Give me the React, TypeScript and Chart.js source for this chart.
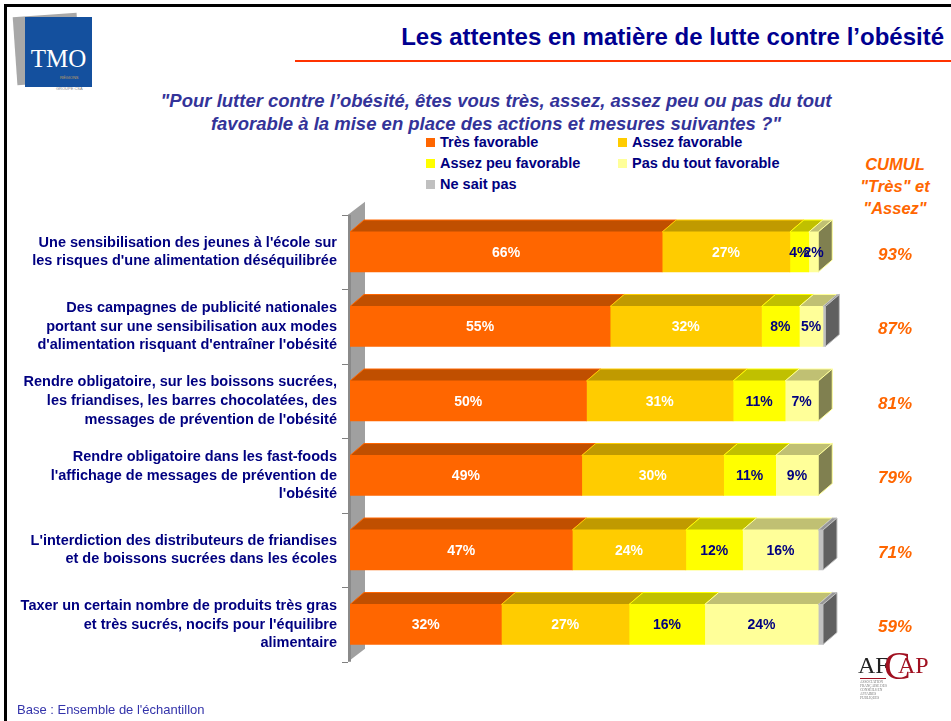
import React, { useEffect, useRef } from "react";
import { Chart, registerables } from "chart.js";

Chart.register(...registerables);

const categories: string[][] = [
  ["Une sensibilisation des jeunes à l'école sur", "les risques d'une alimentation déséquilibrée"],
  ["Des campagnes de publicité nationales", "portant sur une sensibilisation aux modes", "d'alimentation risquant d'entraîner l'obésité"],
  ["Rendre obligatoire, sur les boissons sucrées,", "les friandises, les barres chocolatées, des", "messages de prévention de l'obésité"],
  ["Rendre obligatoire dans les fast-foods", "l'affichage de messages de prévention de", "l'obésité"],
  ["L'interdiction des distributeurs de friandises", "et de boissons sucrées dans les écoles"],
  ["Taxer un certain nombre de produits très gras", "et très sucrés, nocifs pour l'équilibre", "alimentaire"],
];

const seriesNames = ["Très favorable", "Assez favorable", "Assez peu favorable", "Pas du tout favorable", "Ne sait pas"];
const tresFavorable = [66, 55, 50, 49, 47, 32];
const assezFavorable = [27, 32, 31, 30, 24, 27];
const assezPeuFavorable = [4, 8, 11, 11, 12, 16];
const pasDuToutFavorable = [2, 5, 7, 9, 16, 24];
const neSaitPas = [0, 0.5, 0, 0, 1, 1];
const cumulTresAssez = [93, 87, 81, 79, 71, 59];

const seriesData = [tresFavorable, assezFavorable, assezPeuFavorable, pasDuToutFavorable, neSaitPas];
const frontColors = ["#FF6600", "#FFCC00", "#FFFF00", "#FFFF99", "#C0C0C0"];
const topColors = ["#C04F00", "#C09A00", "#C0C000", "#C0C073", "#969696"];
const sideColors = ["#993D00", "#997A00", "#999900", "#808050", "#606060"];
const labelColors = ["#FFFFFF", "#FFFFFF", "#000080", "#000080", "#000080"];

const FONT = '"Liberation Sans", Arial, Helvetica, sans-serif';
const NAVY = "#000080";
const ORANGE = "#FF6600";

const DX = 14;
const DY = 12;

const threeD = {
  id: "threeD",
  beforeDatasetsDraw(chart: any) {
    const { ctx, chartArea } = chart;
    const top = chartArea.top;
    const bottom = chartArea.bottom;
    const L = chartArea.left - 2;
    ctx.save();
    ctx.fillStyle = "#A0A0A0";
    ctx.beginPath();
    ctx.moveTo(L, bottom);
    ctx.lineTo(L, top);
    ctx.lineTo(L + 17, top - 13);
    ctx.lineTo(L + 17, bottom - 13);
    ctx.closePath();
    ctx.fill();
    ctx.fillStyle = "#8A8A8A";
    ctx.fillRect(L, top, 3, bottom - top);
    ctx.strokeStyle = "#808080";
    ctx.lineWidth = 1;
    const n = chart.data.labels.length;
    const step = (bottom - top) / n;
    for (let k = 0; k <= n; k++) {
      const y = Math.round(top + k * step) + 0.5;
      ctx.beginPath();
      ctx.moveTo(L - 6, y);
      ctx.lineTo(L, y);
      ctx.stroke();
    }
    ctx.restore();
  },
  afterDatasetsDraw(chart: any) {
    const { ctx } = chart;
    const nCat = chart.data.labels.length;
    const nDs = chart.data.datasets.length;
    ctx.save();
    for (let j = 0; j < nCat; j++) {
      let lastIdx = -1;
      for (let i = 0; i < nDs; i++) {
        const v = chart.data.datasets[i].data[j];
        if (v > 0) lastIdx = i;
      }
      for (let i = 0; i < nDs; i++) {
        const v = chart.data.datasets[i].data[j];
        if (!(v > 0)) continue;
        const el = chart.getDatasetMeta(i).data[j];
        const p = el.getProps(["x", "y", "base", "height"], true);
        const yt = p.y - p.height / 2;
        const yb = p.y + p.height / 2;
        ctx.fillStyle = topColors[i];
        ctx.beginPath();
        ctx.moveTo(p.base, yt);
        ctx.lineTo(p.x, yt);
        ctx.lineTo(p.x + DX, yt - DY);
        ctx.lineTo(p.base + DX, yt - DY);
        ctx.closePath();
        ctx.fill();
        ctx.strokeStyle = frontColors[i];
        ctx.lineWidth = 1;
        ctx.stroke();
        if (i === lastIdx) {
          ctx.fillStyle = sideColors[i];
          ctx.beginPath();
          ctx.moveTo(p.x, yt);
          ctx.lineTo(p.x + DX, yt - DY);
          ctx.lineTo(p.x + DX, yb - DY);
          ctx.lineTo(p.x, yb);
          ctx.closePath();
          ctx.fill();
          ctx.strokeStyle = frontColors[i];
          ctx.stroke();
        }
      }
      for (let i = 0; i < 4; i++) {
        const v = chart.data.datasets[i].data[j];
        if (!(v >= 1)) continue;
        const el = chart.getDatasetMeta(i).data[j];
        const p = el.getProps(["x", "y", "base"], true);
        ctx.fillStyle = labelColors[i];
        ctx.font = `bold 14px ${FONT}`;
        ctx.textAlign = "center";
        ctx.textBaseline = "middle";
        ctx.fillText(`${v}%`, (p.x + p.base) / 2, p.y + 1);
      }
      const el0 = chart.getDatasetMeta(0).data[j];
      const cy = el0.getProps(["y"], true).y;
      ctx.fillStyle = ORANGE;
      ctx.font = `italic bold 17px ${FONT}`;
      ctx.textAlign = "center";
      ctx.textBaseline = "middle";
      ctx.fillText(`${cumulTresAssez[j]}%`, 895, cy + 3);
    }
    ctx.restore();
  },
};

function BarChart() {
  const ref = useRef<HTMLCanvasElement | null>(null);
  useEffect(() => {
    if (!ref.current) return;
    const chart = new Chart(ref.current, {
      type: "bar",
      data: {
        labels: categories as any,
        datasets: seriesNames.map((name, i) => ({
          label: name,
          data: seriesData[i],
          backgroundColor: frontColors[i],
          borderWidth: 0,
          barThickness: 40,
        })),
      },
      options: {
        indexAxis: "y",
        responsive: false,
        animation: false,
        devicePixelRatio: 1,
        layout: { padding: { top: 214.75, bottom: 59.25, left: 0, right: 123.3 } },
        plugins: { legend: { display: false }, tooltip: { enabled: false } },
        scales: {
          x: { stacked: true, min: 0, max: 101, display: false },
          y: {
            stacked: true,
            grid: { display: false },
            border: { display: false },
            ticks: {
              color: NAVY,
              padding: 5,
              font: { family: FONT, size: 14.5, weight: "bold", lineHeight: 1.3 },
            },
            afterFit: (s: any) => {
              s.width = 350;
            },
          },
        },
      } as any,
      plugins: [threeD],
    });
    return () => chart.destroy();
  }, []);
  return (
    <canvas
      ref={ref}
      width={951}
      height={721}
      style={{ position: "absolute", left: 0, top: 0, width: 951, height: 721 }}
    />
  );
}

const legendPos = [
  { left: 426, top: 134 },
  { left: 618, top: 134 },
  { left: 426, top: 155 },
  { left: 618, top: 155 },
  { left: 426, top: 176 },
];

export default function App() {
  return (
    <div
      style={{
        position: "fixed",
        left: 0,
        top: 0,
        width: 951,
        height: 721,
        background: "#fff",
        overflow: "hidden",
        fontFamily: FONT,
      }}
    >
      <div
        style={{
          position: "absolute",
          left: 4,
          top: 4,
          width: 980,
          height: 760,
          border: "3px solid #000",
          boxSizing: "border-box",
        }}
      />
      <div
        style={{
          position: "absolute",
          left: 15,
          top: 15,
          width: 64,
          height: 68,
          background: "#A8A8A8",
          transform: "rotate(-4deg)",
        }}
      />
      <div
        style={{
          position: "absolute",
          left: 25,
          top: 17,
          width: 67,
          height: 70,
          background: "#14509E",
        }}
      />
      <div
        style={{
          position: "absolute",
          left: 25,
          top: 46,
          width: 67,
          textAlign: "center",
          color: "#fff",
          fontSize: 25,
          lineHeight: "26px",
          fontFamily: '"Liberation Serif", serif',
        }}
      >
        TMO
      </div>
      <div style={{ position: "absolute", left: 60, top: 75, fontSize: 4, color: "#C8A060" }}>RÉGIONS</div>
      <div style={{ position: "absolute", left: 56, top: 86, fontSize: 4, color: "#888" }}>GROUPE CSA</div>

      <div
        style={{
          position: "absolute",
          right: 7,
          top: 22,
          fontSize: 24,
          fontWeight: "bold",
          color: "#000090",
          lineHeight: "30px",
          whiteSpace: "nowrap",
        }}
      >
        Les attentes en matière de lutte contre l’obésité
      </div>
      <div
        style={{ position: "absolute", left: 295, top: 60, width: 660, height: 2, background: "#FF3300" }}
      />
      <div
        style={{
          position: "absolute",
          left: 46,
          top: 89,
          width: 900,
          textAlign: "center",
          fontSize: 18.5,
          fontWeight: "bold",
          fontStyle: "italic",
          color: "#333399",
          lineHeight: "23px",
          whiteSpace: "nowrap",
        }}
      >
        "Pour lutter contre l’obésité, êtes vous très, assez, assez peu ou pas du tout
        <br />
        favorable à la mise en place des actions et mesures suivantes ?"
      </div>

      {seriesNames.map((name, i) => (
        <div
          key={name}
          style={{
            position: "absolute",
            left: legendPos[i].left,
            top: legendPos[i].top,
            height: 16,
            display: "flex",
            alignItems: "center",
            whiteSpace: "nowrap",
          }}
        >
          <div style={{ width: 9, height: 9, background: frontColors[i], marginRight: 5 }} />
          <span style={{ fontSize: 14.5, fontWeight: "bold", color: NAVY }}>{name}</span>
        </div>
      ))}

      <div
        style={{
          position: "absolute",
          left: 845,
          top: 153,
          width: 100,
          textAlign: "center",
          fontSize: 16.5,
          fontWeight: "bold",
          fontStyle: "italic",
          color: ORANGE,
          lineHeight: "22px",
        }}
      >
        CUMUL
        <br />
        "Très" et
        <br />
        "Assez"
      </div>

      <BarChart />

      <div
        style={{
          position: "absolute",
          left: 858,
          top: 646,
          width: 70,
          height: 50,
          fontFamily: '"Liberation Serif", serif',
        }}
      >
        <span style={{ position: "absolute", left: 0, top: 6, fontSize: 24, color: "#222" }}>AF</span>
        <span style={{ position: "absolute", left: 26, top: -4, fontSize: 40, color: "#A01020" }}>C</span>
        <span style={{ position: "absolute", left: 40, top: 6, fontSize: 24, color: "#A01020" }}>AP</span>
        <div style={{ position: "absolute", left: 2, top: 32, width: 26, height: 1, background: "#A01020" }} />
        <div style={{ position: "absolute", left: 2, top: 34, fontSize: 3.5, lineHeight: "4px", color: "#777" }}>
          ASSOCIATION
          <br />
          FRANÇAISE DES
          <br />
          CONSEILS EN
          <br />
          AFFAIRES
          <br />
          PUBLIQUES
        </div>
      </div>

      <div
        style={{
          position: "absolute",
          left: 17,
          top: 702,
          fontSize: 13,
          color: "#3333AA",
          lineHeight: "16px",
          whiteSpace: "nowrap",
        }}
      >
        Base : Ensemble de l'échantillon
      </div>
    </div>
  );
}
